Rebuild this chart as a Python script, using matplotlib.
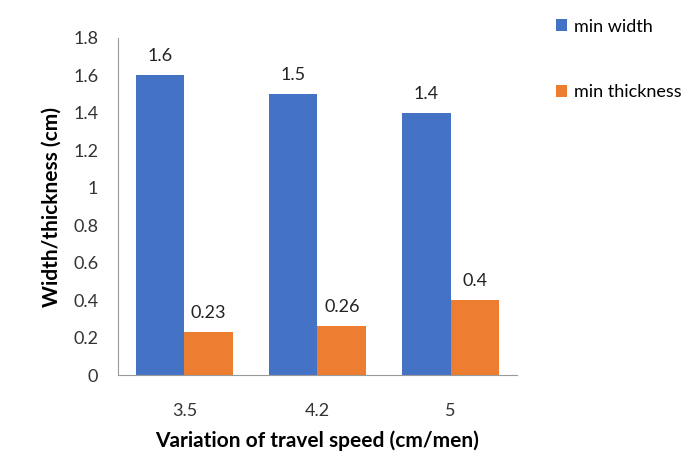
import matplotlib.pyplot as plt
import numpy as np

plt.rcParams['font.family'] = ['Lato', 'DejaVu Sans']

# data
speeds = ['3.5', '4.2', '5']
minWidth = [1.6, 1.5, 1.4]
minThickness = [0.23, 0.26, 0.4]
widthLabels = ['1.6', '1.5', '1.4']
thicknessLabels = ['0.23', '0.26', '0.4']
yTicks = [0, 0.2, 0.4, 0.6, 0.8, 1, 1.2, 1.4, 1.6, 1.8]

blue = '#4472C4'
orange = '#ED7D31'

fig = plt.figure(figsize=(6.97, 4.62), dpi=100)
ax = fig.add_axes([0.169, 0.188, 0.573, 0.730])

x = np.arange(len(speeds))
w = 0.365
b1 = ax.bar(x - w/2, minWidth, w, color=blue, label='min width')
b2 = ax.bar(x + w/2, minThickness, w, color=orange, label='min thickness')

for bars, labs in ((b1, widthLabels), (b2, thicknessLabels)):
    for r, t in zip(bars, labs):
        ax.text(r.get_x() + r.get_width()/2, r.get_height() + 0.06, t,
                ha='center', va='bottom', fontsize=13, color='#222222')

ax.set_xlim(-0.5, 2.5)
ax.set_ylim(0, 1.8)
ax.set_yticks(yTicks)
ax.set_yticklabels(['%g' % v for v in yTicks])
ax.set_xticks(x)
ax.set_xticklabels(speeds)
ax.tick_params(length=0, labelsize=13, colors='#333333')
ax.tick_params(axis='y', pad=14)
ax.tick_params(axis='x', pad=20)

for s in ['top', 'right']:
    ax.spines[s].set_visible(False)
for s in ['left', 'bottom']:
    ax.spines[s].set_color('#9a9a9a')

ax.set_xlabel('Variation of travel speed (cm/men)', fontsize=15, fontweight='bold', labelpad=8)
ax.set_ylabel('Width/thickness (cm)', fontsize=15, fontweight='bold', labelpad=8)

fig.legend(handles=[b1, b2], loc='upper left', bbox_to_anchor=(0.775, 0.995),
           frameon=False, fontsize=13, labelspacing=2.75, handlelength=0.6,
           handleheight=0.6, handletextpad=0.4)

plt.savefig('out.png', dpi=100)
